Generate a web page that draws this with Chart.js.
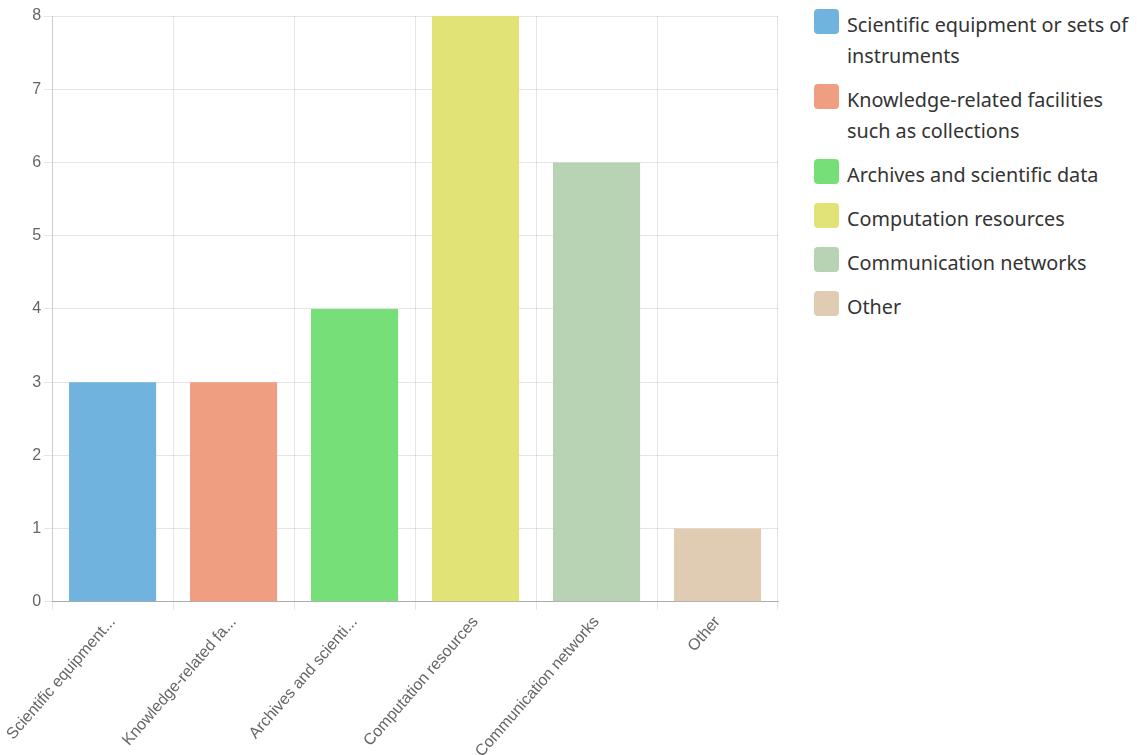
<!DOCTYPE html>
<html>
<head>
<meta charset="utf-8">
<script src="https://cdn.jsdelivr.net/npm/chart.js@4.4.1/dist/chart.umd.min.js"></script>
<style>
    body { margin: 0; background: #fff; overflow: hidden; }
    #wrap { position: absolute; left: 5px; top: 0; width: 785px; height: 764px; }
    #legend { position: absolute; left: 814px; top: 9px; margin: 0; padding: 0; list-style: none;
              font-family: "Noto Sans", "Open Sans", sans-serif; font-size: 19.8px; color: #333; }
    #legend li { display: flex; align-items: flex-start; margin-bottom: 13px; line-height: 31px; }
    #legend .box { flex: none; width: 25px; height: 25px; border-radius: 4px; margin: 0 8px 0 0; }
    #legend .txt { width: 292px; }
</style>
</head>
<body>
<div id="wrap"><canvas id="barChart"></canvas></div>
<ul id="legend"></ul>
<script>
// หมวดหมู่และจำนวน
var categories = [
    'Scientific equipment or sets of instruments',
    'Knowledge-related facilities such as collections',
    'Archives and scientific data',
    'Computation resources',
    'Communication networks',
    'Other'
];
var counts = [3, 3, 4, 8, 6, 1];
var barColors = ['#70b3de', '#f09e82', '#77df77', '#e2e377', '#b8d2b4', '#dfccb2'];
var yTicks = [0, 1, 2, 3, 4, 5, 6, 7, 8];

// ตัดชื่อยาวให้สั้นลงบนแกน x
function shortLabel(s) {
    return s.length > 22 ? s.substring(0, 20) + '...' : s;
}

var tickFont = { family: 'Liberation Sans, Arial', size: 16 };

var ctx = document.getElementById('barChart').getContext('2d');
var barChart = new Chart(ctx, {
    type: 'bar',
    data: {
        labels: categories,
        datasets: [{
            data: counts,
            backgroundColor: barColors,
            borderWidth: 0
        }]
    },
    options: {
        responsive: true,
        maintainAspectRatio: false,
        animation: false,
        layout: { padding: { top: 16, right: 12 } },
        plugins: {
            legend: { display: false },
            tooltip: { enabled: false }
        },
        scales: {
            x: {
                grid: { color: 'rgba(0,0,0,0.1)' },
                border: { color: 'rgba(0,0,0,0.25)' },
                ticks: {
                    color: '#666',
                    font: tickFont,
                    minRotation: 49,
                    maxRotation: 49,
                    callback: function (value) { return shortLabel(this.getLabelForValue(value)); }
                }
            },
            y: {
                min: yTicks[0],
                max: yTicks[yTicks.length - 1],
                grid: { color: 'rgba(0,0,0,0.1)' },
                border: { color: 'rgba(0,0,0,0.1)' },
                ticks: {
                    stepSize: 1,
                    color: '#666',
                    font: tickFont
                }
            }
        }
    }
});

// สร้าง legend แบบ HTML ด้านขวา
var legend = document.getElementById('legend');
categories.forEach(function (name, i) {
    var li = document.createElement('li');
    li.innerHTML = '<span class="box" style="background:' + barColors[i] + '"></span><span class="txt">' + name + '</span>';
    legend.appendChild(li);
});
</script>
</body>
</html>
